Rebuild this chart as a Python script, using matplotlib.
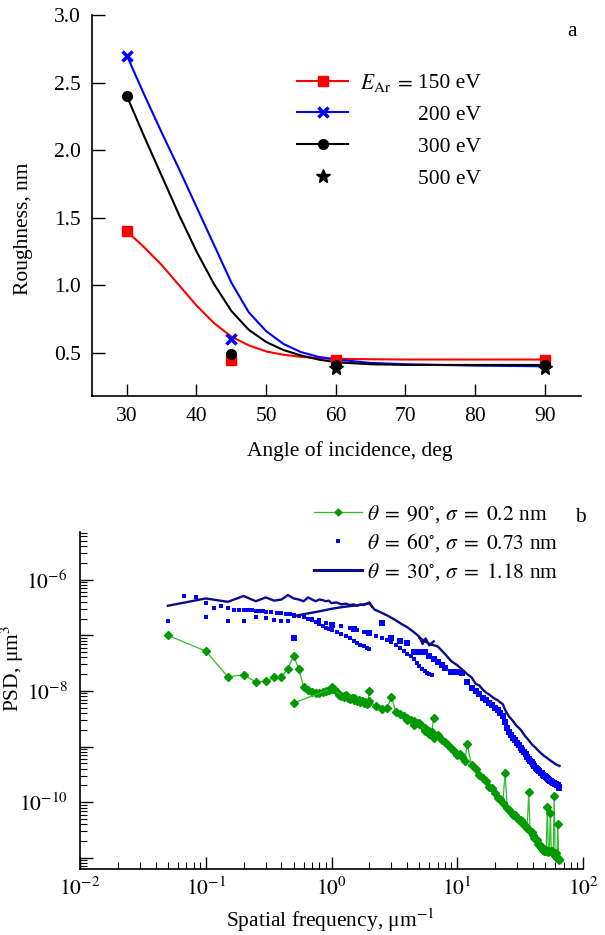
import numpy as np
import matplotlib
matplotlib.use('Agg')
import matplotlib.pyplot as plt
from matplotlib.ticker import FixedLocator, LogLocator, FuncFormatter, NullFormatter

plt.rcParams['font.family'] = ['Liberation Serif', 'DejaVu Serif']
plt.rcParams['mathtext.fontset'] = 'stix'
plt.rcParams['font.size'] = 15.5

# ============================================================================
# PANEL a - roughness vs angle of incidence
# ============================================================================
angles = [30, 45, 60, 90]
rough_150 = [1.40, 0.45, 0.45, 0.45]
angles_200 = [30, 45]
rough_200 = [2.70, 0.60]
rough_300 = [2.40, 0.49, 0.41, 0.41]
angles_500 = [60, 90]
rough_500 = [0.39, 0.39]

# smooth fitted curves
fit_angles = [30, 32.5, 35, 37.5, 40, 42.5, 45, 47.5, 50, 52.5, 55, 57.5, 60, 65, 70, 80, 90]
fit_150 = [1.40, 1.28, 1.15, 1.00, 0.85, 0.72, 0.62, 0.555, 0.51, 0.485, 0.47, 0.46, 0.455, 0.452, 0.45, 0.45, 0.45]
fit_200 = [2.70, 2.41, 2.13, 1.86, 1.58, 1.30, 1.02, 0.80, 0.66, 0.565, 0.505, 0.47, 0.45, 0.425, 0.415, 0.405, 0.40]
fit_300 = [2.40, 2.10, 1.81, 1.52, 1.25, 1.01, 0.81, 0.67, 0.58, 0.52, 0.48, 0.45, 0.43, 0.415, 0.41, 0.41, 0.41]

energy_labels = ['150 eV', '200 eV', '300 eV', '500 eV']

# ============================================================================
# PANEL b - PSD spectra (several scan sizes per sample)
# ============================================================================
# theta = 90 deg (green)
g1_f = [0.05, 0.1, 0.15, 0.2, 0.25, 0.3, 0.35, 0.4, 0.45, 0.5, 0.55, 0.6, 0.65, 0.7, 0.75,
        0.8, 0.85, 0.9, 0.95, 1.0, 1.05, 1.1, 1.15, 1.2, 1.25, 1.3, 1.35, 1.4, 1.45, 1.5,
        1.55, 1.6, 1.65, 1.7, 1.75, 1.8, 1.85, 1.9, 1.95, 2.0]
g1_p = [1.0e-7, 5.2e-8, 1.8e-8, 1.95e-8, 1.45e-8, 1.5e-8, 1.75e-8, 1.8e-8, 2.5e-8, 4.3e-8,
        2.45e-8, 1.2e-8, 1.05e-8, 9.6e-9, 9.2e-9, 9.0e-9, 9.4e-9, 9.8e-9, 1.05e-8, 1.2e-8,
        1.1e-8, 9.5e-9, 8.6e-9, 8.2e-9, 7.9e-9, 8.3e-9, 7.6e-9, 7.2e-9, 7.5e-9, 6.9e-9,
        7.1e-9, 6.6e-9, 6.8e-9, 6.3e-9, 6.5e-9, 6.0e-9, 6.4e-9, 5.8e-9, 6.1e-9, 1.0e-8]
g2_f = [0.5, 1.0, 1.25, 1.5, 1.75, 2.0, 2.25, 2.5, 2.75, 3.0, 3.25, 3.5, 3.75, 4.0, 4.25,
        4.5, 4.75, 5.0, 5.25, 5.5, 5.75, 6.0, 6.25, 6.5]
g2_p = [6.1e-9, 1.1e-8, 8.0e-9, 7.5e-9, 6.6e-9, 6.5e-9, 5.4e-9, 4.8e-9, 4.9e-9, 7.7e-9,
        4.2e-9, 3.8e-9, 3.6e-9, 3.3e-9, 3.0e-9, 2.9e-9, 2.6e-9, 2.5e-9, 2.3e-9, 2.2e-9,
        2.0e-9, 1.9e-9, 1.8e-9, 3.3e-9]
g3_f = [4, 4.5, 5, 5.5, 6, 6.5, 7, 7.5, 8, 8.5, 9, 9.5, 10, 10.5, 11, 11.5, 12, 13, 14,
        15, 16, 17, 18, 19, 20, 21, 22, 23, 24, 25, 26, 27, 28, 29, 30, 31, 32, 33, 34,
        35, 36, 37, 38, 39, 40, 41, 42, 43, 44, 45, 46, 47, 48, 49, 50, 51, 52, 53, 54,
        55, 56, 57, 58, 59, 60, 61, 62, 63, 64, 65]
g3_p = [3.0e-9, 2.4e-9, 2.6e-9, 1.9e-9, 1.7e-9, 1.45e-9, 1.6e-9, 1.3e-9, 1.2e-9, 1.05e-9,
        9.5e-10, 8.3e-10, 7.2e-10, 7.5e-10, 6.5e-10, 5.5e-10, 1.1e-9, 4.6e-10, 4.0e-10,
        3.1e-10, 2.7e-10, 2.4e-10, 1.9e-10, 1.8e-10, 1.45e-10, 1.2e-10, 1.15e-10, 9.5e-11, 3.3e-10,
        8.0e-11, 7.2e-11, 6.8e-11, 6.0e-11, 5.9e-11, 5.2e-11, 4.8e-11, 4.7e-11, 4.2e-11, 4.0e-11,
        3.6e-11, 3.5e-11, 1.5e-10, 3.0e-11, 2.9e-11, 2.6e-11, 2.3e-11, 2.2e-11, 2.1e-11, 1.8e-11,
        1.7e-11, 1.6e-11, 1.45e-11, 1.4e-11, 1.35e-11, 1.3e-11, 1.4e-11, 8.3e-11, 1.25e-11, 1.3e-11,
        6.5e-11, 1.3e-11, 1.35e-11, 1.2e-11, 1.3e-10, 1.1e-11, 1.2e-11, 1.0e-11, 4.0e-11, 9.5e-12,
        9.0e-12]

# theta = 60 deg (blue dots)
b1_f = [0.067, 0.083, 0.1, 0.117, 0.133, 0.15, 0.167, 0.183, 0.2, 0.217, 0.233, 0.25, 0.267,
        0.283, 0.3, 0.333, 0.367, 0.4, 0.433, 0.467, 0.5, 0.55, 0.6, 0.65, 0.7, 0.75, 0.8,
        0.85, 0.9, 0.95, 1.0, 1.1, 1.2, 1.3, 1.4, 1.5, 1.6, 1.7, 1.8, 1.9, 2.0]
b1_p = [5.1e-7, 4.8e-7, 3.8e-7, 3.1e-7, 3.3e-7, 3.1e-7, 2.8e-7, 2.9e-7, 2.9e-7, 2.8e-7,
        2.85e-7, 2.75e-7, 2.7e-7, 2.75e-7, 2.65e-7, 2.6e-7, 2.55e-7, 2.5e-7, 2.45e-7, 2.4e-7,
        2.3e-7, 2.2e-7, 2.1e-7, 2.0e-7, 1.9e-7, 1.75e-7, 1.6e-7, 1.45e-7, 1.35e-7, 1.3e-7,
        1.25e-7, 1.15e-7, 1.05e-7, 9.6e-8, 8.8e-8, 8.0e-8, 7.4e-8, 6.8e-8, 6.3e-8, 6.0e-8, 5.7e-8]
b2_f = [0.05, 0.1, 0.15, 0.2, 0.25, 0.3, 0.35, 0.4, 0.45, 0.5, 0.6, 0.7, 0.8, 0.9, 1.0,
        1.2, 1.4, 1.6, 1.8, 2.0, 2.25, 2.5, 2.75, 3.0, 3.25, 3.5, 3.75, 4.0, 4.25, 4.5,
        4.75, 5.0, 5.25, 5.5, 5.75, 6.0, 6.25]
b2_p = [1.8e-7, 2.1e-7, 1.8e-7, 1.8e-7, 2.1e-7, 2.05e-7, 1.85e-7, 1.8e-7, 1.8e-7, 2.25e-7,
        2.1e-7, 2.0e-7, 1.85e-7, 1.7e-7, 1.6e-7, 1.45e-7, 1.35e-7, 1.25e-7, 1.15e-7, 1.05e-7,
        9.8e-8, 9.0e-8, 8.2e-8, 7.5e-8, 6.8e-8, 6.0e-8, 5.3e-8, 4.7e-8, 4.2e-8, 3.7e-8,
        3.2e-8, 2.8e-8, 2.5e-8, 2.3e-8, 2.1e-8, 2.0e-8, 1.9e-8]
b3_f = [0.5, 1, 1.5, 2, 2.5, 3, 3.5, 4, 4.5, 5, 5.5, 6, 6.5, 7, 7.5, 8, 9, 10, 11, 12, 13,
        14, 15, 16, 17, 18, 19, 20, 21, 22, 23, 24, 25, 26, 27, 28, 29, 30, 31, 32, 33, 34,
        35, 36, 37, 38, 39, 40, 41, 42, 43, 44, 45, 46, 47, 48, 49, 50, 51, 52, 53, 54, 55,
        56, 57, 58, 59, 60, 61, 62, 63, 64, 65]
b3_p = [9.0e-8, 1.55e-7, 1.3e-7, 1.1e-7, 1.64e-7, 8.8e-8, 7.9e-8, 7.2e-8, 5.1e-8, 5.0e-8,
        5.1e-8, 4.2e-8, 3.8e-8, 3.3e-8, 2.9e-8, 2.6e-8, 2.2e-8, 2.2e-8, 2.1e-8, 1.45e-8,
        1.15e-8, 1.0e-8, 8.8e-9, 7.6e-9, 6.8e-9, 6.1e-9, 5.6e-9, 5.0e-9, 4.5e-9, 4.0e-9,
        3.5e-9, 2.8e-9, 2.2e-9, 1.85e-9, 1.6e-9, 1.45e-9, 1.3e-9, 1.15e-9, 1.05e-9, 9.6e-10,
        8.8e-10, 8.0e-10, 7.3e-10, 6.6e-10, 6.0e-10, 5.6e-10, 5.2e-10, 4.8e-10, 4.5e-10, 4.2e-10,
        4.0e-10, 3.8e-10, 3.6e-10, 3.4e-10, 3.3e-10, 3.1e-10, 3.0e-10, 2.9e-10, 2.8e-10, 2.7e-10,
        2.6e-10, 2.5e-10, 2.45e-10, 2.4e-10, 2.3e-10, 2.25e-10, 2.2e-10, 2.15e-10, 2.1e-10,
        2.05e-10, 2.0e-10, 1.9e-10, 1.8e-10]

# theta = 30 deg (navy line)
n1_f = [0.05, 0.1, 0.15, 0.2, 0.25, 0.3, 0.35, 0.4, 0.45, 0.5, 0.55, 0.6, 0.65, 0.7, 0.75,
        0.8, 0.85, 0.9, 0.95, 1.0, 1.1, 1.2, 1.3, 1.4, 1.5, 1.6, 1.7, 1.8, 1.9, 2.0, 2.1]
n1_p = [3.4e-7, 4.6e-7, 4.0e-7, 5.1e-7, 4.1e-7, 4.8e-7, 4.2e-7, 4.4e-7, 5.3e-7, 4.6e-7,
        4.4e-7, 4.1e-7, 4.8e-7, 4.4e-7, 4.1e-7, 4.4e-7, 4.3e-7, 4.1e-7, 4.2e-7, 3.8e-7,
        3.9e-7, 3.6e-7, 3.7e-7, 3.5e-7, 3.6e-7, 3.4e-7, 3.6e-7, 3.5e-7, 3.7e-7, 3.9e-7, 3.3e-7]
n2_f = [0.5, 0.6, 0.7, 0.8, 0.9, 1.0, 1.2, 1.4, 1.6, 1.8, 2.0, 2.2, 2.5, 2.8, 3.2, 3.6,
        4.0, 4.5, 5.0, 5.3, 5.6, 6.0, 6.5]
n2_p = [2.2e-7, 2.4e-7, 2.55e-7, 2.7e-7, 2.85e-7, 3.0e-7, 3.2e-7, 3.35e-7, 3.45e-7, 3.6e-7,
        3.75e-7, 2.9e-7, 2.55e-7, 2.25e-7, 1.9e-7, 1.6e-7, 1.4e-7, 1.15e-7, 9.4e-8, 7.0e-8,
        8.8e-8, 6.6e-8, 7.8e-8]
n3_f = [5, 6, 7, 8, 9, 10, 11, 12, 13, 14, 15, 16, 17, 18, 19, 20, 21, 22, 23, 24, 25,
        26, 27, 28, 29, 30, 31, 32, 33, 34, 35, 36, 37, 38, 39, 40, 41, 42, 43, 44, 45,
        46, 47, 48, 49, 50, 51, 52, 53, 54, 55, 56, 57, 58, 59, 60, 61, 62, 63, 64, 65]
n3_p = [9.0e-8, 7.0e-8, 6.3e-8, 4.6e-8, 3.4e-8, 2.9e-8, 2.4e-8, 2.0e-8, 1.75e-8, 1.35e-8,
        1.25e-8, 1.05e-8, 9.3e-9, 8.6e-9, 7.8e-9, 7.2e-9, 6.8e-9, 6.2e-9, 5.8e-9, 4.6e-9,
        3.9e-9, 3.4e-9, 3.1e-9, 2.8e-9, 2.5e-9, 2.3e-9, 2.15e-9, 2.0e-9, 1.8e-9, 1.65e-9,
        1.5e-9, 1.4e-9, 1.3e-9, 1.2e-9, 1.12e-9, 1.05e-9, 1.0e-9, 9.5e-10, 9.0e-10, 8.5e-10,
        8.1e-10, 7.7e-10, 7.4e-10, 7.1e-10, 6.8e-10, 6.6e-10, 6.4e-10, 6.2e-10, 6.0e-10, 5.8e-10,
        5.6e-10, 5.5e-10, 5.3e-10, 5.2e-10, 5.0e-10, 4.9e-10, 4.8e-10, 4.7e-10, 4.6e-10, 4.6e-10,
        4.5e-10]

psd_labels = [r'$\theta\;=\;90^{\circ}$, $\sigma\;=\;0.2$ nm',
              r'$\theta\;=\;60^{\circ}$, $\sigma\;=\;0.73$ nm',
              r'$\theta\;=\;30^{\circ}$, $\sigma\;=\;1.18$ nm']

# ============================================================================
# FIGURE
# ============================================================================
W, H = 605, 935
fig = plt.figure(figsize=(W / 100, H / 100), dpi=100)

def px_axes(left, top, right, bottom):
    return fig.add_axes([left / W, 1 - bottom / H, (right - left) / W, (bottom - top) / H])

# ---------------- panel a ----------------
ax1 = px_axes(92, 15, 581, 396)
red, blue = '#ff0000', '#0000ff'

ax1.plot(fit_angles, fit_150, color=red, lw=1.5, zorder=2)
ax1.plot(fit_angles, fit_200, color=blue, lw=1.5, zorder=2)
ax1.plot(fit_angles, fit_300, color='black', lw=1.5, zorder=2)
ax1.plot(angles, rough_150, 's', color=red, ms=7, zorder=3)
ax1.plot(angles_200, rough_200, 'x', color=blue, ms=7, mew=2.5, zorder=3)
ax1.plot(angles, rough_300, 'o', color='black', ms=7, zorder=4)
ax1.plot(angles_500, rough_500, '*', color='black', ms=10, zorder=5)

h150, = ax1.plot([], [], '-s', color=red, lw=1.5, ms=7)
h200, = ax1.plot([], [], '-x', color=blue, lw=1.5, ms=7, mew=2.5)
h300, = ax1.plot([], [], '-o', color='black', lw=1.5, ms=7)
h500, = ax1.plot([], [], '*', color='black', ms=10)
leg1 = ax1.legend([h150, h200, h300, h500], energy_labels, loc='upper left',
                  bbox_to_anchor=(297 / W, 1 - 73 / H), bbox_transform=fig.transFigure,
                  frameon=False, numpoints=1, handlelength=2.37, handletextpad=3.26,
                  labelspacing=0.55, borderpad=0, borderaxespad=0)
ax1.annotate(r'$E_{\mathrm{Ar}}\;=$', xy=(0, 0.2), xycoords=leg1.get_texts()[0],
             xytext=(-4, 0), textcoords='offset points', ha='right', va='baseline')

ax1.set_xlim(25, 95.2)
ax1.set_ylim(0.18, 3.0)
ax1.set_xticks([30, 40, 50, 60, 70, 80, 90])
ax1.set_yticks([0.5, 1.0, 1.5, 2.0, 2.5, 3.0])
ax1.yaxis.set_major_formatter(FuncFormatter(lambda v, p: f'{v:.1f}'))
ax1.tick_params(direction='in', length=9, width=1, pad=8)
for s in ['top', 'right']:
    ax1.spines[s].set_visible(False)
for s in ['left', 'bottom']:
    ax1.spines[s].set_linewidth(1.2)

fig.text(28 / W, 1 - 229 / H, 'Roughness, nm', rotation=90, rotation_mode='anchor',
         ha='center', va='baseline')
fig.text(350 / W, 1 - 456 / H, 'Angle of incidence, deg', ha='center', va='baseline')
fig.text(572 / W, 1 - 32 / H, 'a', ha='center', va='center')

# ---------------- panel b ----------------
ax2 = px_axes(80, 532, 583, 869)
ax2.set_xscale('log')
ax2.set_yscale('log')

green_line, green_mk = '#33bb33', '#009900'
navy = '#0c0c8a'
g_kw = dict(color=green_line, lw=0.9, marker='D', ms=4.3, mfc=green_mk, mec=green_mk)
ax2.plot(g1_f, g1_p, **g_kw, zorder=3)
ax2.plot(g2_f, g2_p, **g_kw, zorder=3)
ax2.plot(g3_f, g3_p, **g_kw, zorder=3)

ax2.plot(b1_f, b1_p, 's', color=blue, ms=2.4, mew=0, zorder=3)
ax2.plot(b2_f, b2_p, 's', color=blue, ms=3.0, mew=0, zorder=3)
ax2.plot(b3_f, b3_p, 's', color=blue, ms=4.5, mew=0, zorder=3)

ax2.plot(n1_f, n1_p, '-', color=navy, lw=1.7, zorder=4)
ax2.plot(n2_f, n2_p, '-', color=navy, lw=1.7, zorder=4)
ax2.plot(n3_f, n3_p, '-', color=navy, lw=1.7, zorder=4)

hg, = ax2.plot([], [], color=green_line, lw=0.9, marker='D', ms=3.5, mfc=green_mk, mec=green_mk)
hb, = ax2.plot([], [], 's', color=blue, ms=3.0, mew=0)
hn, = ax2.plot([], [], '-', color=navy, lw=2.2)
ax2.legend([hg, hb, hn], psd_labels, loc='upper left',
           bbox_to_anchor=(314 / W, 1 - 503 / H), bbox_transform=fig.transFigure,
           frameon=False, numpoints=1, handlelength=2.23, handletextpad=0.23,
           labelspacing=0.3, borderpad=0, borderaxespad=0)

ax2.set_xlim(1e-2, 1e2)
ax2.set_ylim(6.3e-12, 7.2e-6)
ax2.xaxis.set_major_locator(FixedLocator([1e-2, 1e-1, 1e0, 1e1, 1e2]))
ax2.xaxis.set_minor_locator(LogLocator(base=10, subs=np.arange(2, 10), numticks=50))
ax2.xaxis.set_minor_formatter(NullFormatter())
ax2.xaxis.set_major_formatter(FuncFormatter(
    lambda v, p: r'$10^{%d}$' % int(round(np.log10(v)))))
ax2.yaxis.set_major_locator(FixedLocator([1e-11, 1e-10, 1e-9, 1e-8, 1e-7, 1e-6]))
ax2.yaxis.set_minor_locator(LogLocator(base=10, subs=np.arange(2, 10), numticks=50))
ax2.yaxis.set_minor_formatter(NullFormatter())

def y_fmt(v, p):
    e = int(round(np.log10(v)))
    return r'$10^{%d}$' % e if e % 2 == 0 else ''

ax2.yaxis.set_major_formatter(FuncFormatter(y_fmt))
ax2.tick_params(which='major', direction='in', length=9, width=1)
ax2.tick_params(which='minor', direction='in', length=5, width=0.8)
ax2.tick_params(axis='x', which='major', pad=6)
ax2.tick_params(axis='y', which='major', pad=9)
for s in ['top', 'right']:
    ax2.spines[s].set_visible(False)
for s in ['left', 'bottom']:
    ax2.spines[s].set_linewidth(1.2)

fig.text(19 / W, 1 - 668 / H, 'PSD, μm$^{3}$', rotation=90, rotation_mode='anchor',
         ha='center', va='baseline')
fig.text(330 / W, 1 - 927 / H, 'Spatial frequency, μm$^{-1}$', ha='center', va='baseline')
fig.text(580 / W, 1 - 517 / H, 'b', ha='center', va='center')

fig.canvas.draw()
fig.savefig('out.png', dpi=100)
